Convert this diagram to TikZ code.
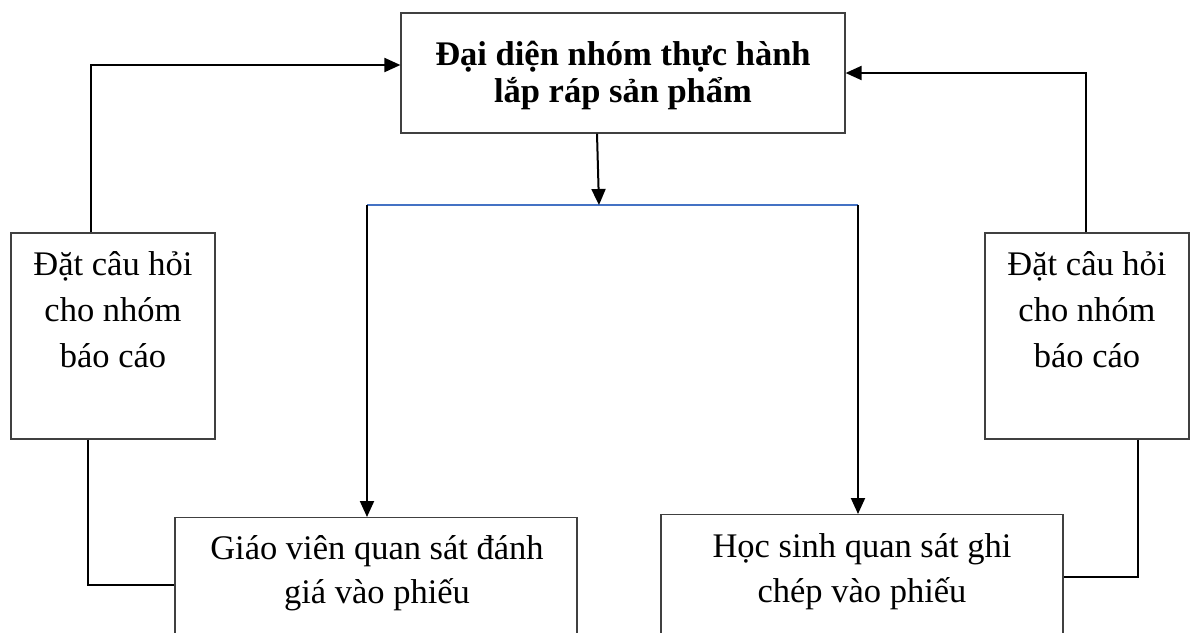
\documentclass[tikz,border=0pt]{standalone}
\usepackage{fontspec}
\setmainfont{Liberation Serif}
\usetikzlibrary{arrows.meta,calc}
\definecolor{wordblue}{RGB}{68,114,196}
\newcommand\stacklines[1]{\vtop{\lineskiplimit=-\maxdimen\halign{\hfil##\hfil\cr#1\crcr}}}
\begin{document}
\begin{tikzpicture}[x=0.5pt,y=-0.5pt,
  box/.style={draw=black!75, line width=0.6pt, inner sep=0pt, fill=white},
  conn/.style={line width=1pt, draw=black},
  arr/.style={conn, -{Triangle[length=8pt,width=7pt]}},
  bluebar/.style={line width=0.75pt, draw=wordblue},
  txt/.style={inner sep=0pt, anchor=base, font=\fontsize{17.25pt}{23pt}\selectfont}]
\path[use as bounding box, clip] (0,0) rectangle (1191,633);
\fill[white] (0,0) rectangle (1191,633);
% boxes
\node[box, minimum width=222pt, minimum height=60pt] (top) at (623,73) {};
\node[box, minimum width=102pt, minimum height=103pt] (L) at (113,336) {};
\node[box, minimum width=102pt, minimum height=103pt] (R) at (1087,336) {};
\node[box, minimum width=201pt, minimum height=100pt, anchor=north] (T) at (376,517) {};
\node[box, minimum width=201pt, minimum height=100pt, anchor=north] (S) at (862,514) {};
% texts
\node[txt, font=\fontsize{17.25pt}{18.5pt}\selectfont\bfseries] (topt) at (623,65) {\stacklines{Đại diện nhóm thực hành\cr lắp ráp sản phẩm}};
\node[txt] (Lt) at (113,275) {\stacklines{Đặt câu hỏi\cr cho nhóm\cr báo cáo}};
\node[txt] (Rt) at (1087,275) {\stacklines{Đặt câu hỏi\cr cho nhóm\cr báo cáo}};
\node[txt, font=\fontsize{17.25pt}{22pt}\selectfont] (Tt) at (377,559) {\stacklines{Giáo viên quan sát đánh\cr giá vào phiếu}};
\node[txt, font=\fontsize{17.25pt}{22.5pt}\selectfont] (St) at (862,557) {\stacklines{Học sinh quan sát ghi\cr chép vào phiếu}};
% junction points
\coordinate (jL) at (367,205);
\coordinate (jR) at (858,205);
\coordinate (jM) at (599,205);
% connectors
\draw[bluebar] (jL) -- (jR);
\draw[arr] ($(top.south)+(-26,0)$) -- (jM);
\draw[arr] (jL) -- (jL |- T.north);
\draw[arr] (jR) -- (jR |- S.north);
\draw[arr] ($(L.north west)+(81,0)$) |- ($(top.west)+(0,-8)$);
\draw[arr] ($(R.north west)+(102,0)$) |- (top.east);
\draw[conn] ($(L.south west)+(78,0)$) |- ($(T.north west)+(0,68)$);
\draw[conn] ($(R.south west)+(154,0)$) |- ($(S.north east)+(0,63)$);
\end{tikzpicture}
\end{document}
